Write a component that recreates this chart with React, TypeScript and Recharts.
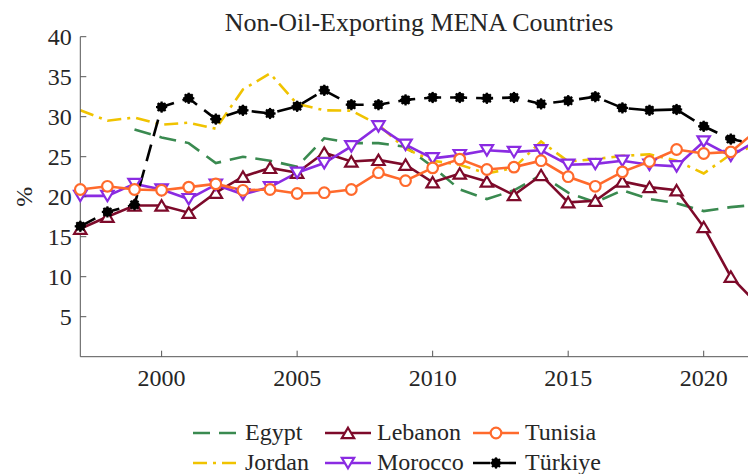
import React from 'react';
import { LineChart, Line, XAxis, YAxis, Legend } from 'recharts';

const YEARS = [1997, 1998, 1999, 2000, 2001, 2002, 2003, 2004, 2005, 2006, 2007, 2008, 2009, 2010, 2011, 2012, 2013, 2014, 2015, 2016, 2017, 2018, 2019, 2020, 2021, 2022];

const EGYPT = [null, null, 28.4, 27.4, 26.7, 24.2, 25.0, 24.5, 23.75, 27.3, 26.7, 26.7, 26.25, 23.75, 20.9, 19.7, 20.8, 22.7, 20.5, 19.3, 20.8, 19.7, 19.2, 18.2, 18.7, 19.0];
const JORDAN = [30.8, 29.5, 29.9, 29.0, 29.25, 28.5, 33.4, 35.4, 31.6, 30.8, 30.75, 29.0, 26.0, 24.5, 24.0, 22.9, 23.6, 26.9, 24.4, 24.7, 25.1, 25.3, 24.5, 22.9, 25.3, 26.5];
const LEBANON = [16.0, 17.5, 18.9, 18.9, 18.0, 20.5, 22.5, 23.6, 23.0, 25.5, 24.4, 24.6, 24.0, 21.8, 22.9, 21.9, 20.2, 22.7, 19.3, 19.5, 21.9, 21.2, 20.8, 16.2, 10.0, 6.5];
const MOROCCO = [20.1, 20.1, 21.6, 20.9, 19.7, 21.5, 20.3, 21.2, 23.0, 24.2, 26.3, 28.8, 26.5, 24.8, 25.2, 25.8, 25.6, 25.8, 24.0, 24.1, 24.5, 24.0, 23.8, 26.9, 25.1, 27.1];
const TUNISIA = [20.9, 21.3, 20.9, 20.8, 21.2, 21.6, 20.8, 20.9, 20.4, 20.5, 20.9, 23.0, 22.0, 23.6, 24.7, 23.4, 23.7, 24.5, 22.5, 21.3, 23.1, 24.4, 25.9, 25.4, 25.6, 28.4];
const TURKIYE = [16.3, 18.1, 19.0, 31.2, 32.3, 29.7, 30.8, 30.4, 31.3, 33.3, 31.5, 31.5, 32.1, 32.4, 32.4, 32.3, 32.4, 31.6, 32.0, 32.5, 31.1, 30.8, 30.9, 28.8, 27.2, 26.5];

const X_TICKS = [2000, 2005, 2010, 2015, 2020];
const Y_TICKS = [5, 10, 15, 20, 25, 30, 35, 40];

const TITLE = 'Non-Oil-Exporting MENA Countries';
const Y_LABEL = '%';

type Marker = 'none' | 'up' | 'down' | 'circle' | 'star';
interface SeriesDef { key: string; color: string; dash?: string; marker: Marker; values: (number | null)[] }

const SERIES: SeriesDef[] = [
  { key: 'Egypt', color: '#3A8A50', dash: '17 9', marker: 'none', values: EGYPT },
  { key: 'Jordan', color: '#F0C300', dash: '14 6 3 6', marker: 'none', values: JORDAN },
  { key: 'Lebanon', color: '#7D0A2A', marker: 'up', values: LEBANON },
  { key: 'Morocco', color: '#8A2BE2', marker: 'down', values: MOROCCO },
  { key: 'Tunisia', color: '#FF6A2C', marker: 'circle', values: TUNISIA },
  { key: 'Türkiye', color: '#000000', dash: '17 9', marker: 'star', values: TURKIYE },
];

const LEGEND_ORDER = [['Egypt', 'Lebanon', 'Tunisia'], ['Jordan', 'Morocco', 'Türkiye']];

const DATA = YEARS.map((y, i) => {
  const row: Record<string, number | null> = { year: y };
  SERIES.forEach((s) => { row[s.key] = s.values[i]; });
  return row;
});

const FONT = 'Liberation Serif, DejaVu Serif, serif';
const TEXT = '#262626';
const AXIS = '#555555';

function MarkerShape({ marker, color, cx, cy }: { marker: Marker; color: string; cx: number; cy: number }) {
  const sw = 2.2;
  if (marker === 'up') {
    return <polygon points={`${cx},${cy - 5.3} ${cx + 6.2},${cy + 5.1} ${cx - 6.2},${cy + 5.1}`} fill="#fff" stroke={color} strokeWidth={sw} />;
  }
  if (marker === 'down') {
    return <polygon points={`${cx},${cy + 5.3} ${cx + 6.2},${cy - 5.1} ${cx - 6.2},${cy - 5.1}`} fill="#fff" stroke={color} strokeWidth={sw} />;
  }
  if (marker === 'circle') {
    return <circle cx={cx} cy={cy} r={5.3} fill="#fff" stroke={color} strokeWidth={sw} />;
  }
  if (marker === 'star') {
    const r = 5.6;
    const d = r * 0.7071;
    return (
      <g stroke={color} strokeWidth={2.2}>
        <circle cx={cx} cy={cy} r={3.6} fill={color} />
        <line x1={cx - r} y1={cy} x2={cx + r} y2={cy} />
        <line x1={cx} y1={cy - r} x2={cx} y2={cy + r} />
        <line x1={cx - d} y1={cy - d} x2={cx + d} y2={cy + d} />
        <line x1={cx - d} y1={cy + d} x2={cx + d} y2={cy - d} />
      </g>
    );
  }
  return null;
}

function makeDot(s: SeriesDef) {
  return (props: any) => {
    const { cx, cy, index, value } = props;
    if (cx == null || cy == null || value == null || Number.isNaN(cx) || Number.isNaN(cy)) return <g key={`d-${s.key}-${index}`} />;
    return (
      <g key={`d-${s.key}-${index}`}>
        <MarkerShape marker={s.marker} color={s.color} cx={cx} cy={cy} />
      </g>
    );
  };
}

function LegendContent() {
  const colX = [185, 317, 465];
  const rowY = [33, 63];
  const sw = 46;
  return (
    <svg width={748} height={74} style={{ display: 'block' }}>
      {LEGEND_ORDER.map((row, ri) =>
        row.map((name, ci) => {
          const s = SERIES.find((q) => q.key === name)!;
          const x0 = colX[ci];
          const y0 = rowY[ri];
          return (
            <g key={name}>
              <line x1={x0} y1={y0} x2={x0 + sw} y2={y0} stroke={s.color} strokeWidth={2.6} strokeDasharray={s.dash} />
              {s.marker !== 'none' && <MarkerShape marker={s.marker} color={s.color} cx={x0 + sw / 2} cy={y0} />}
              <text x={x0 + 52} y={y0 + 7} style={{ fontFamily: FONT }} fontSize={24} fill={TEXT}>{name}</text>
            </g>
          );
        })
      )}
    </svg>
  );
}

const tickStyle = { fill: TEXT, fontSize: 24, fontFamily: FONT, style: { fontFamily: FONT } };

export default function App() {
  return (
    <div style={{ position: 'relative', width: 748, height: 466, overflow: 'hidden', background: '#fff', fontFamily: FONT }}>
      <style>{`html, body { overflow: hidden; }`}</style>
      <div style={{ position: 'absolute', left: 0, top: 1, width: 822, textAlign: 'center', fontSize: 26, lineHeight: '27px', color: TEXT, fontFamily: FONT, whiteSpace: 'nowrap', zIndex: 2 }}>
        {TITLE}
      </div>
      <LineChart width={752} height={466} data={DATA} margin={{ top: 28.7, right: 2.1, bottom: 0, left: 12.3 }} style={{ fontFamily: FONT }}>
        <XAxis
          dataKey="year"
          type="number"
          domain={[1997, 2022]}
          ticks={X_TICKS}
          height={117.3}
          interval={0}
          stroke={AXIS}
          tickSize={-6}
          tickMargin={18.3}
          tick={tickStyle}
          tickLine={{ stroke: AXIS }}
        />
        <YAxis
          type="number"
          domain={[0, 40]}
          ticks={Y_TICKS}
          width={60}
          interval={0}
          stroke={AXIS}
          tickSize={-6}
          tickMargin={14.6}
          tick={tickStyle}
          tickLine={{ stroke: AXIS }}
          label={{
            content: (p: any) => {
              const vb = p.viewBox || { x: 0, y: 0, height: 0 };
              const cx = 16;
              const cy = vb.y + vb.height / 2;
              return (
                <text x={cx} y={cy} transform={`rotate(-90, ${cx}, ${cy})`} textAnchor="middle" dominantBaseline="central" style={{ fontFamily: FONT }} fontSize={24} fill={TEXT}>{Y_LABEL}</text>
              );
            },
          }}
        />
        <Legend
          layout="vertical"
          align="center"
          verticalAlign="middle"
          content={() => <LegendContent />}
          wrapperStyle={{ left: 0, top: 392, width: 748, height: 74 }}
        />
        {SERIES.map((s) => (
          <Line
            key={s.key}
            dataKey={s.key}
            name={s.key}
            type="linear"
            stroke={s.color}
            strokeWidth={2.6}
            strokeDasharray={s.dash}
            dot={s.marker === 'none' ? false : makeDot(s)}
            activeDot={false}
            connectNulls={false}
            isAnimationActive={false}
          />
        ))}
      </LineChart>
    </div>
  );
}
